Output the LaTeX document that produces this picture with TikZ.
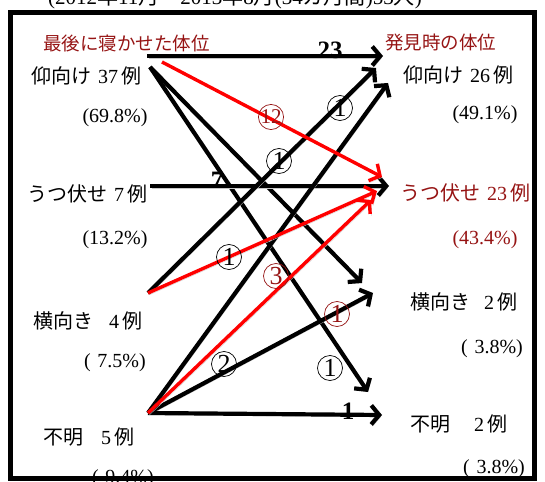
\documentclass[tikz,border=0pt]{standalone}
\usepackage{fontspec}
\setmainfont{Liberation Serif}
\newfontfamily\jpf{Noto Sans CJK JP}
\usetikzlibrary{arrows.meta}
\definecolor{dred}{RGB}{150,20,20}
\definecolor{bred}{RGB}{255,0,0}
\newcommand\jj[1]{{\jpf #1}}
\begin{document}
\begin{tikzpicture}[x=1pt,y=-1pt,
  lab/.style={inner sep=0pt,font=\fontsize{20}{22}\selectfont},
  pct/.style={inner sep=0pt,font=\fontsize{20}{22}\selectfont},
  ttl/.style={inner sep=0pt,text=dred,font=\fontsize{18.5}{20}\selectfont},
  blk/.style={draw=black,line width=4.2pt,-{Straight Barb[length=8pt,width=19pt]},
    preaction={draw=black!22,transform canvas={xshift=1.5pt,yshift=-1.8pt}}},
  rd/.style={draw=bred,line width=3.4pt,-{Straight Barb[length=8pt,width=19pt]},
    preaction={draw=black!18,transform canvas={xshift=1.5pt,yshift=-1.8pt}}},
  circlab/.style={circle,draw=black,line width=0.7pt,minimum size=25pt,inner sep=0pt,
    fill=none,font=\fontsize{26}{28}\selectfont},
  rcirclab/.style={circlab,draw=dred,text=dred},
  num/.style={inner sep=0pt,font=\fontsize{25}{27}\selectfont\bfseries}]
\useasboundingbox (0,0) rectangle (545,481);
\fill[white] (0,0) rectangle (545,481);
% cut-off title
\node[inner sep=0pt,font=\fontsize{21}{23}\selectfont] (title) at (235,-2) {(2012\jj{年}11\jj{月～}2013\jj{年}8\jj{月}(34\jj{カ月間})53\jj{人})};
% left labels
\node[ttl,anchor=west] (lt) at (43,43) {\jj{最後に寝かせた体位}};
\node[lab,anchor=west] (l1) at (31,76) {\jj{仰向け}\hspace{7pt}37\,\jj{例}};
\node[pct] (p1) at (115,118) {(69.8\%)};
\node[lab,anchor=west] (l2) at (27,194) {\jj{うつ伏せ}\hspace{7pt}7\,\jj{例}};
\node[pct] (p2) at (115,240) {(13.2\%)};
\node[lab,anchor=west] (l3) at (33,321) {\jj{横向き}\hspace{16pt}4\,\jj{例}};
\node[pct] (p3) at (115,363) {(\,\,7.5\%)};
\node[lab,anchor=west] (l4) at (43,437) {\jj{不明}\hspace{18pt}5\,\jj{例}};
\node[pct] (p4) at (123,479) {(\,\,9.4\%)};
% right labels
\node[ttl,anchor=west] (rt) at (385,43) {\jj{発見時の体位}};
\node[lab,anchor=west] (r1) at (403,75) {\jj{仰向け}\hspace{7pt}26\,\jj{例}};
\node[pct] (q1) at (485,115) {(49.1\%)};
\node[lab,anchor=west,text=dred] (r2) at (400,193) {\jj{うつ伏せ}\hspace{7pt}23\,\jj{例}};
\node[pct,text=dred] (q2) at (485,240) {(43.4\%)};
\node[lab,anchor=west] (r3) at (410,302) {\jj{横向き}\hspace{14pt}2\,\jj{例}};
\node[pct] (q3) at (492,349) {(\,\,3.8\%)};
\node[lab,anchor=west] (r4) at (410,424) {\jj{不明}\hspace{24pt}2\,\jj{例}};
\node[pct] (q4) at (494,469) {(\,\,3.8\%)};
% connector end points
\coordinate (a1h) at (147,56);
\coordinate (a1r) at (162,62);
\coordinate (a1b) at (150,67);
\coordinate (a2) at (150,186);
\coordinate (a3) at (148,293);
\coordinate (a4) at (148,413);
\coordinate (b1h) at (383,56);
\coordinate (b1a) at (376,68);
\coordinate (b1b) at (388,83);
\coordinate (b2h) at (389,186);
\coordinate (b2a) at (382,177);
\coordinate (b2b) at (377,191);
\coordinate (b2c) at (371,200);
\coordinate (b3a) at (362,283);
\coordinate (b3b) at (373,293);
\coordinate (b4a) at (368,392);
\coordinate (b4h) at (382,415);
% connectors
\draw[blk] (a1h) -- (b1h);
\draw[blk] (a1b) -- (b3a);
\draw[blk] (a1b) -- (b4a);
\draw[blk] (a2) -- (b2h);
\draw[blk] (a3) -- (b1a);
\draw[blk] (a4) -- (b1b);
\draw[blk] (a4) -- (b3b);
\draw[blk] (a4) -- (b4h);
\draw[rd] (a1r) -- (b2a);
\draw[rd] (a3) -- (b2b);
\draw[rd] (a4) -- (b2c);
% labels on connectors
\node[num] (n23) at (330,50) {23};
\node[num] (n7) at (217,180) {7};
\node[num] (n1) at (348,411) {1};
\node[rcirclab] (c12) at (271,117) {\fontsize{21}{22}\selectfont 12};
\node[circlab] (c1a) at (340,108) {1};
\node[circlab] (c1b) at (279,161) {1};
\node[circlab] (c1c) at (229,257) {1};
\node[rcirclab] (c3) at (276,276) {3};
\node[rcirclab] (c1d) at (337,314) {1};
\node[circlab] (c2) at (224,364) {2};
\node[circlab] (c1e) at (330,368) {1};
% frame
\draw[line width=5pt] (10.5,12.5) rectangle (534,478.5);
\end{tikzpicture}
\end{document}
